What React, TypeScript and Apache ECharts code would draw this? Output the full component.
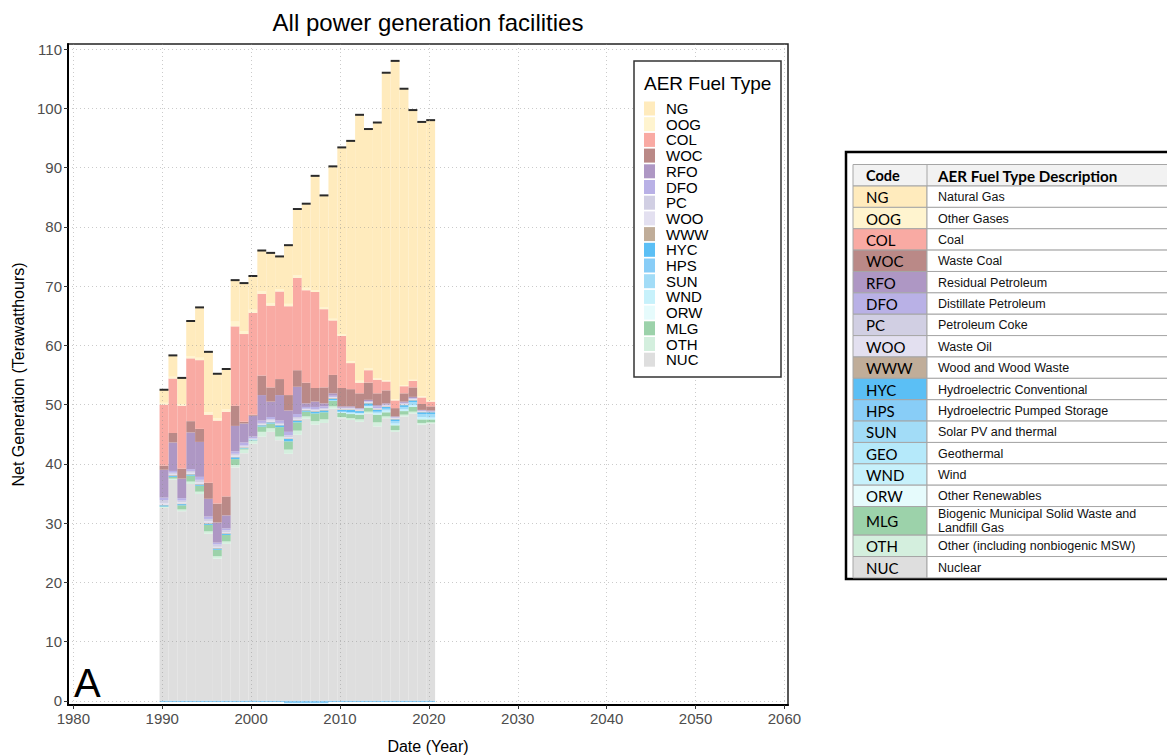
import React, { useEffect, useRef } from 'react';
import * as echarts from 'echarts';

const years = [1990, 1991, 1992, 1993, 1994, 1995, 1996, 1997, 1998, 1999, 2000, 2001, 2002, 2003, 2004, 2005, 2006, 2007, 2008, 2009, 2010, 2011, 2012, 2013, 2014, 2015, 2016, 2017, 2018, 2019, 2020];

// Net generation by AER fuel type (TWh)
const NG = [2.2, 3.6, 4.4, 5.9, 8.5, 10.2, 7.5, 6.8, 7.0, 8.1, 5.7, 6.9, 8.5, 5.5, 9.9, 11.2, 14.2, 19.3, 18.9, 25.7, 31.5, 37.2, 44.9, 40.4, 43.2, 51.9, 57.1, 50.0, 45.5, 46.3, 47.3];
const OOG = [0.3, 0.3, 0.3, 0.4, 0.4, 0.4, 0.4, 0.4, 0.8, 0.5, 0.5, 0.4, 0.4, 0.4, 0.4, 0.4, 0.4, 0.3, 0.3, 0.3, 0.3, 0.3, 0.3, 0.3, 0.2, 0.2, 0.2, 0.2, 0.2, 0.2, 0.2];
const COL = [10.3, 9.2, 10.6, 10.6, 11.6, 11.5, 14.0, 14.3, 13.4, 14.8, 17.2, 13.8, 13.8, 14.8, 15.0, 15.6, 15.6, 16.2, 13.2, 9.2, 8.8, 4.4, 1.8, 2.1, 2.3, 1.5, 1.3, 1.2, 1.1, 1.1, 0.8];
const WOC = [0.7, 1.6, 1.7, 1.9, 2.2, 2.7, 3.2, 3.2, 3.4, 0.3, 0.2, 3.3, 2.4, 2.7, 2.6, 2.8, 3.5, 2.3, 2.7, 3.1, 3.1, 2.9, 2.5, 2.9, 2.0, 2.2, 1.4, 1.4, 1.6, 1.0, 0.7];
const RFO = [4.7, 4.8, 3.3, 6.2, 5.9, 3.0, 3.4, 2.2, 4.3, 3.2, 3.5, 4.3, 2.6, 4.3, 3.6, 4.6, 0.6, 0.9, 0.5, 0.4, 0.2, 0.2, 0.1, 0.2, 0.2, 0.2, 0.1, 0.2, 0.2, 0.1, 0.1];
const DFO = [0.4, 0.3, 0.4, 0.3, 0.5, 0.4, 0.3, 0.3, 0.4, 0.5, 0.3, 0.4, 0.4, 0.4, 0.6, 0.5, 0.3, 0.4, 0.3, 0.2, 0.1, 0.1, 0.1, 0.1, 0.3, 0.1, 0.1, 0.1, 0.1, 0.1, 0.1];
const PC = [0.5, 0.2, 0.3, 0.3, 0.4, 0.4, 0.4, 0.3, 0.3, 0.2, 0.1, 0.2, 0.2, 0.2, 0.3, 0.3, 0.1, 0.2, 0.2, 0.1, 0.1, 0.1, 0.1, 0.1, 0.1, 0.1, 0.1, 0.1, 0.1, 0.0, 0.0];
const WOO = [0.3, 0.2, 0.2, 0.2, 0.3, 0.3, 0.2, 0.2, 0.2, 0.1, 0.1, 0.1, 0.2, 0.1, 0.2, 0.2, 0.1, 0.1, 0.1, 0.1, 0.1, 0.1, 0.1, 0.1, 0.1, 0.1, 0.1, 0.1, 0.1, 0.1, 0.0];
const WWW = [0.1, 0.1, 0.1, 0.1, 0.1, 0.1, 0.1, 0.1, 0.1, 0.1, 0.0, 0.1, 0.1, 0.1, 0.1, 0.1, 0.1, 0.1, 0.1, 0.1, 0.1, 0.1, 0.1, 0.1, 0.1, 0.1, 0.1, 0.1, 0.1, 0.1, 0.1];
const HYC = [0.2, 0.2, 0.2, 0.2, 0.2, 0.2, 0.2, 0.2, 0.3, 0.1, 0.1, 0.2, 0.2, 0.3, 0.4, 0.3, 0.2, 0.3, 0.3, 0.3, 0.3, 0.4, 0.3, 0.4, 0.3, 0.3, 0.3, 0.3, 0.3, 0.3, 0.3];
const HPS = [-0.2, -0.2, -0.2, -0.2, -0.2, -0.2, -0.2, -0.2, -0.2, -0.2, -0.2, -0.2, -0.2, -0.2, -0.4, -0.4, -0.4, -0.4, -0.4, -0.2, -0.2, -0.2, -0.2, -0.2, -0.2, -0.2, -0.2, -0.2, -0.2, -0.2, -0.2];
const SUN = [0, 0, 0, 0, 0, 0, 0, 0, 0, 0, 0, 0, 0, 0, 0, 0, 0, 0, 0, 0, 0.1, 0.1, 0.1, 0.1, 0.2, 0.3, 0.4, 0.4, 0.5, 0.5, 0.6];
const WND = [0, 0, 0, 0, 0, 0, 0, 0, 0, 0, 0, 0, 0, 0, 0, 0, 0, 0, 0, 0.1, 0.1, 0.2, 0.2, 0.2, 0.3, 0.3, 0.3, 0.3, 0.3, 0.4, 0.3];
const ORW = [0, 0, 0, 0, 0, 0, 0, 0, 0, 0, 0, 0, 0, 0, 0, 0, 0, 0, 0, 0, 0, 0, 0, 0, 0, 0, 0, 0, 0, 0, 0];
const MLG = [0.1, 0.3, 0.7, 1.0, 1.0, 1.1, 1.1, 1.1, 1.0, 0.2, 0.1, 0.9, 0.8, 1.6, 1.4, 1.4, 0.8, 1.3, 1.2, 0.9, 0.7, 0.7, 0.8, 0.7, 1.3, 0.7, 0.8, 0.6, 0.8, 0.6, 0.5];
const OTH = [0.1, 0.2, 0.3, 0.4, 0.4, 0.4, 0.4, 0.4, 0.4, 0.6, 0.5, 0.8, 0.6, 0.6, 0.7, 0.7, 0.4, 0.6, 0.6, 0.4, 0.2, 0.3, 0.4, 0.3, 0.7, 0.3, 0.3, 0.3, 0.3, 0.3, 0.2];
const NUC = [32.6, 37.3, 32.0, 36.6, 34.9, 28.2, 24.0, 26.5, 39.4, 41.8, 43.4, 44.6, 45.4, 44.0, 41.7, 44.9, 47.6, 46.6, 46.9, 49.3, 47.7, 47.4, 47.1, 48.5, 46.3, 47.7, 45.4, 48.0, 48.5, 46.6, 46.8];

const xTicks = [1980, 1990, 2000, 2010, 2020, 2030, 2040, 2050, 2060];
const yTicks = [0, 10, 20, 30, 40, 50, 60, 70, 80, 90, 100, 110];

const legendOrder = ['NG', 'OOG', 'COL', 'WOC', 'RFO', 'DFO', 'PC', 'WOO', 'WWW', 'HYC', 'HPS', 'SUN', 'WND', 'ORW', 'MLG', 'OTH', 'NUC'];

const colors: Record<string, string> = {
  NG: '#FFEBBD', OOG: '#FFF4CF', COL: '#F9AAA3', WOC: '#BA8987', RFO: '#AE97C4', DFO: '#B9B1E6',
  PC: '#D1CFE3', WOO: '#E3E0F0', WWW: '#C0AD99', HYC: '#5BBFF5', HPS: '#88CDF7', SUN: '#A2DCF7',
  GEO: '#B5E9FA', WND: '#C7F1FB', ORW: '#E6FBFC', MLG: '#9CD2AA', OTH: '#D4EFDE', NUC: '#DEDEDE',
};

const tableCodes = ['NG', 'OOG', 'COL', 'WOC', 'RFO', 'DFO', 'PC', 'WOO', 'WWW', 'HYC', 'HPS', 'SUN', 'GEO', 'WND', 'ORW', 'MLG', 'OTH', 'NUC'];
const tableDescriptions = ['Natural Gas', 'Other Gases', 'Coal', 'Waste Coal', 'Residual Petroleum', 'Distillate Petroleum', 'Petroleum Coke', 'Waste Oil', 'Wood and Wood Waste', 'Hydroelectric Conventional', 'Hydroelectric Pumped Storage', 'Solar PV and thermal', 'Geothermal', 'Wind', 'Other Renewables', 'Biogenic Municipal Solid Waste and\nLandfill Gas', 'Other (including nonbiogenic MSW)', 'Nuclear'];

const FONT = '"Liberation Sans", Arial, Helvetica, sans-serif';

function buildOption() {
  const valuesByCode: Record<string, number[]> = { NG, OOG, COL, WOC, RFO, DFO, PC, WOO, WWW, HYC, HPS, SUN, WND, ORW, MLG, OTH, NUC };
  const stackOrder = [...legendOrder].reverse(); // bottom to top
  const posBase = years.map(() => 0);
  const negBase = years.map(() => 0);
  const BAR_L = 0.3;
  const BAR_R = 0.7;

  const series: any[] = stackOrder.map((code) => {
    const vals = valuesByCode[code];
    const data = years.map((yr, i) => {
      const v = vals[i];
      let a: number;
      let b: number;
      if (v >= 0) { a = posBase[i]; b = a + v; posBase[i] = b; } else { a = negBase[i]; b = a + v; negBase[i] = b; }
      return [yr, a, b];
    });
    const color = colors[code];
    return {
      type: 'custom',
      name: code,
      itemStyle: { color },
      encode: { x: 0, y: [1, 2] },
      data,
      z: 2,
      renderItem: (_p: any, api: any) => {
        const x = api.value(0);
        const y0 = api.value(1);
        const y1 = api.value(2);
        if (y0 === y1) return null;
        const p0 = api.coord([x - BAR_L, Math.min(y0, y1)]);
        const p1 = api.coord([x + BAR_R, Math.max(y0, y1)]);
        return {
          type: 'rect',
          shape: { x: p0[0], y: p1[1], width: p1[0] - p0[0], height: p0[1] - p1[1] },
          style: { fill: color, stroke: null },
        };
      },
    };
  });

  const totals = years.map((yr, i) => [yr, posBase[i]]);
  series.push({
    type: 'custom',
    name: 'Total',
    data: totals,
    encode: { x: 0, y: 1 },
    z: 3,
    renderItem: (_p: any, api: any) => {
      const x = api.value(0);
      const t = api.value(1);
      const a = api.coord([x - BAR_L, t]);
      const b = api.coord([x + BAR_R, t]);
      return {
        type: 'line',
        shape: { x1: a[0], y1: a[1], x2: b[0], y2: b[1] },
        style: { stroke: '#2a2a2a', lineWidth: 2 },
      };
    },
  });

  // Table graphic
  const tableChildren: any[] = [];
  const tX = 853;
  const colX = 927;
  const tRight = 1185;
  const headerTop = 164.5;
  const headerH = 21.5;
  tableChildren.push({ type: 'rect', shape: { x: 846, y: 152, width: 400, height: 427 }, style: { fill: '#fff', stroke: '#000', lineWidth: 2.5 }, z: 20 });
  tableChildren.push({ type: 'rect', shape: { x: tX, y: headerTop, width: tRight - tX, height: headerH }, style: { fill: '#F2F2F2', stroke: '#A6A6A6', lineWidth: 1 }, z: 21 });
  tableChildren.push({ type: 'line', shape: { x1: colX, y1: headerTop, x2: colX, y2: headerTop + headerH }, style: { stroke: '#A6A6A6', lineWidth: 1 }, z: 22 });
  tableChildren.push({ type: 'text', x: 866, y: headerTop + headerH / 2 + 0.5, style: { text: 'Code', font: 'bold 14.5px Lato, "Open Sans", sans-serif', fill: '#000', verticalAlign: 'middle' }, z: 23 });
  tableChildren.push({ type: 'text', x: 938, y: headerTop + headerH / 2 + 0.5, style: { text: 'AER Fuel Type Description', font: 'bold 15.2px Lato, "Open Sans", sans-serif', fill: '#000', verticalAlign: 'middle' }, z: 23 });
  let rowY = headerTop + headerH;
  tableCodes.forEach((code, i) => {
    const h = code === 'MLG' ? 28.6 : 21.37;
    tableChildren.push({ type: 'rect', shape: { x: tX, y: rowY, width: colX - tX, height: h }, style: { fill: colors[code], stroke: '#A6A6A6', lineWidth: 1 }, z: 21 });
    tableChildren.push({ type: 'rect', shape: { x: colX, y: rowY, width: tRight - colX, height: h }, style: { fill: '#fff', stroke: '#A6A6A6', lineWidth: 1 }, z: 21 });
    tableChildren.push({ type: 'text', x: 866, y: rowY + h / 2 + 0.5, style: { text: code, font: '15px Lato, "Open Sans", sans-serif', fill: '#000', verticalAlign: 'middle' }, z: 23 });
    tableChildren.push({ type: 'text', x: 938, y: rowY + h / 2 + 0.5, style: { text: tableDescriptions[i], font: '12.5px ' + FONT, fill: '#111', verticalAlign: 'middle', lineHeight: 14 }, z: 23 });
    rowY += h;
  });

  const plain = (v: number) => String(v);

  return {
    animation: false,
    backgroundColor: '#fff',
    grid: {
      left: 68, right: 1167 - 788, top: 44, bottom: 755 - 705,
      show: true, borderColor: '#222', borderWidth: 1.5, backgroundColor: '#fff',
      outerBoundsMode: 'none',
    },
    xAxis: {
      type: 'value', min: 1979.4, max: 2060.4, z: 4,
      axisLine: { show: true, onZero: false, lineStyle: { color: '#000', width: 2 } },
      axisTick: { show: true, length: 4, customValues: xTicks, lineStyle: { color: '#333', width: 1 } },
      axisLabel: { customValues: xTicks, formatter: plain, color: '#4D4D4D', fontSize: 15, margin: 6, fontFamily: FONT },
      splitLine: { show: true, lineStyle: { color: 'rgba(140,140,140,0.45)', type: [1, 3], width: 1 } },
      name: 'Date (Year)', nameLocation: 'middle', nameGap: 33,
      nameTextStyle: { fontSize: 16, color: '#000', fontFamily: FONT },
    },
    yAxis: {
      type: 'value', min: -0.7, max: 110.85, z: 4,
      axisLine: { show: true, onZero: false, lineStyle: { color: '#000', width: 2 } },
      axisTick: { show: true, length: 4, customValues: yTicks, lineStyle: { color: '#333', width: 1 } },
      axisLabel: { customValues: yTicks, formatter: plain, color: '#4D4D4D', fontSize: 15, margin: 6, fontFamily: FONT },
      splitLine: { show: true, lineStyle: { color: 'rgba(140,140,140,0.45)', type: [1, 3], width: 1 } },
      name: 'Net Generation (Terawatthours)', nameLocation: 'middle', nameGap: 42, nameRotate: 90,
      nameTextStyle: { fontSize: 16, color: '#000', fontFamily: FONT },
    },
    legend: {
      data: legendOrder,
      orient: 'vertical',
      left: 644, top: 101,
      padding: 0,
      itemWidth: 11, itemHeight: 14, itemGap: 0.7,
      icon: 'rect',
      selectedMode: false,
      z: 12,
      textStyle: { fontSize: 15, color: '#000', fontFamily: FONT, padding: [0, 0, 0, 6] },
    },
    graphic: [
      { type: 'text', x: 428, y: 22, z: 10, style: { text: 'All power generation facilities', font: '24px ' + FONT, fill: '#000', align: 'center', verticalAlign: 'middle' } },
      { type: 'text', x: 74, y: 683, z: 10, style: { text: 'A', font: '40px ' + FONT, fill: '#000', align: 'left', verticalAlign: 'middle' } },
      { type: 'rect', z: 10, shape: { x: 634, y: 61, width: 147, height: 316 }, style: { fill: '#fff', stroke: '#333', lineWidth: 1.5 } },
      { type: 'text', x: 644, y: 83, z: 11, style: { text: 'AER Fuel Type', font: '19px ' + FONT, fill: '#000', align: 'left', verticalAlign: 'middle' } },
      { type: 'group', children: tableChildren },
    ],
    series,
  };
}

export default function App() {
  const ref = useRef<HTMLDivElement>(null);
  useEffect(() => {
    document.body.style.margin = '0';
    const chart = echarts.init(ref.current as HTMLDivElement, null, { renderer: 'svg' });
    chart.setOption(buildOption() as any);
    return () => chart.dispose();
  }, []);
  return <div ref={ref} style={{ width: 1167, height: 755, position: 'absolute', left: 0, top: 0 }} />;
}
